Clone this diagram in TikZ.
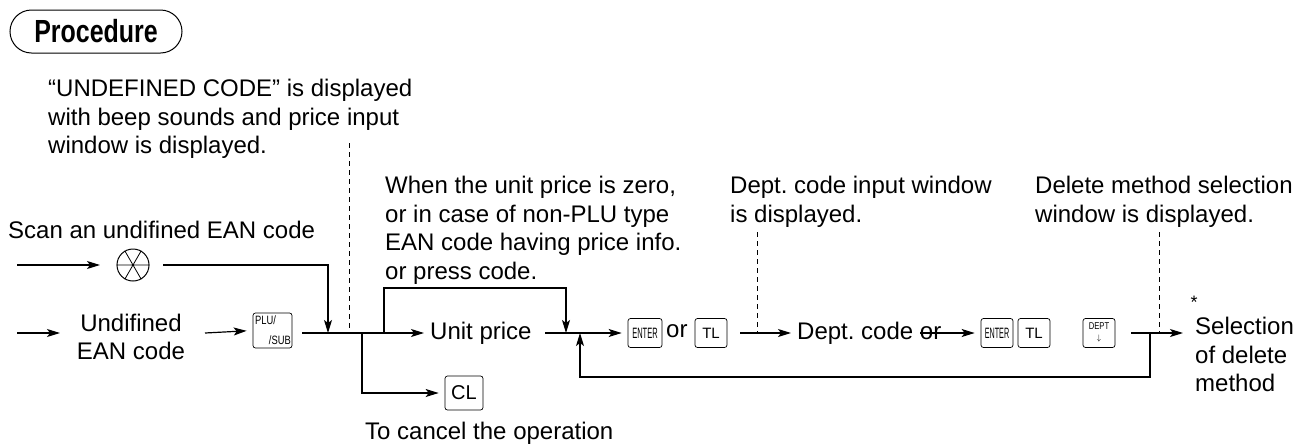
\documentclass[tikz,border=0pt]{standalone}
\usepackage{fontspec}
\setmainfont{Liberation Sans}
\usetikzlibrary{arrows.meta,shapes.misc}
\begin{document}
\frenchspacing
\begin{tikzpicture}[x=1pt,y=-1pt,
  txt/.style={inner sep=0pt,font=\fontsize{24}{28.5}\selectfont,align=left},
  ln/.style={line width=1.2pt},
  ar/.style={ln,-{Stealth[length=13pt,width=8pt,inset=3pt]},shorten >=6pt},
  dsh/.style={line width=0.9pt,dash pattern=on 5pt off 4pt},
  key/.style={draw,line width=0.7pt,rounded corners=2.5pt,inner sep=0pt,minimum height=29pt}]
\useasboundingbox (0,0) rectangle (1298,445);
% Procedure
\node[draw,line width=1pt,rounded rectangle,minimum width=172pt,minimum height=43pt,inner sep=0pt] (proc) at (96,31.5)
  {\scalebox{0.78}[1]{\fontsize{32}{32}\selectfont\bfseries Procedure}};
% notes
\node[txt,anchor=north west] (n1) at (48,79) {“UNDEFINED CODE” is displayed\\with beep sounds and price input\\window is displayed.};
\node[txt,anchor=west] (scan) at (8,230) {Scan an undifined EAN code};
\node[txt,anchor=north west] (n2) at (385,176) {When the unit price is zero,\\or in case of non-PLU type\\EAN code having price info.\\or press code.};
\node[txt,anchor=north west] (n3) at (730,176) {Dept. code input window\\is displayed.};
\node[txt,anchor=north west] (n4) at (1035,176) {Delete method selection\\window is displayed.};
% row 1
\coordinate (s1) at (17,265);
\node[draw,circle,line width=1pt,minimum size=32pt,inner sep=0pt] (scanner) at (133,265) {};
\draw[line width=0.8pt] (scanner.west)--(scanner.east) (scanner.60)--(scanner.240) (scanner.120)--(scanner.300);
\draw[ar,shorten >=0pt] (s1) -- (100,265);
\coordinate (j1) at (328,333);
\draw[ar,shorten >=0pt] (163,265) -| (j1);
% row 2
\coordinate (s2) at (17,333);
\node[txt,align=center] (und) at (131,337) {Undifined\\EAN code};
\draw[ar,shorten >=0pt] (s2) -- (60,333);
\node[key,minimum width=39pt,minimum height=35pt] (plu) at (272.5,330.5) {};
\node[inner sep=0pt,font=\fontsize{11}{11}\selectfont,anchor=north west] (plut) at (255,316) {\scalebox{0.85}[1.1]{PLU/}};
\node[inner sep=0pt,font=\fontsize{11}{11}\selectfont,anchor=south east] (plub) at (291,345) {\scalebox{0.85}[1.1]{/SUB}};
\draw[ar] (205,333) -- (plu.west);
\coordinate (jcl) at (362,333);
\coordinate (jbr) at (384,333);
\node[txt,anchor=west] (unit) at (430,333) {Unit price};
\draw[ar] (302,333) -- (unit.west);
\node[key,minimum width=38pt,minimum height=34pt] (cl) at (464,393) {\fontsize{20}{20}\selectfont CL};
\draw[ar] (jcl) |- (cl.west);
\node[txt,anchor=west] (cancel) at (365,433) {To cancel the operation};
\coordinate (jd) at (566,333);
\draw[ar,shorten >=0pt] (jbr) |- (566,288) -- (jd);
% enter or TL
\node[key,minimum width=34pt] (en1) at (645,333) {\fontsize{10}{10}\selectfont\scalebox{0.75}[1.5]{ENTER}};
\node[txt,anchor=west] (or1) at (666,331) {or};
\node[key,minimum width=32pt] (tl1) at (711,333) {\fontsize{15}{15}\selectfont TL};
\draw[ar] (545,333) -- (en1.west);
\node[txt,anchor=west] (dept) at (797,333) {Dept. code or};
\draw[ar] (740,333) -- (dept.west);
\node[key,minimum width=32pt] (en2) at (997,333) {\fontsize{10}{10}\selectfont\scalebox{0.72}[1.5]{ENTER}};
\node[key,minimum width=32pt] (tl2) at (1034,333) {\fontsize{15}{15}\selectfont TL};
\draw[ar] (920,333) -- (en2.west);
\node[key,minimum width=32pt] (dk) at (1099,333) {};
\node[inner sep=0pt,font=\fontsize{9}{9}\selectfont] (dkt) at (1099,326) {\scalebox{0.85}[1.1]{DEPT}};
\node[inner sep=0pt,font=\fontsize{8}{8}\selectfont] (dka) at (1099,338) {$\downarrow$};
\node[inner sep=0pt,font=\fontsize{18}{18}\selectfont] (star) at (1194,302) {*};
\node[txt,anchor=north west] (sel) at (1195,317) {Selection\\of delete\\method};
\coordinate (jr) at (1150,333);
\draw[ar,shorten >=0pt] (1131,333) -- (1183,333);
\coordinate (ju) at (580,333);
\draw[ar,shorten >=0pt] (jr) |- (580,377) -- (ju);
% dashed
\draw[dsh] (349,143) -- (349,333);
\draw[dsh] (757,232) -- (757,333);
\draw[dsh] (1159,232) -- (1159,333);
\end{tikzpicture}
\end{document}
